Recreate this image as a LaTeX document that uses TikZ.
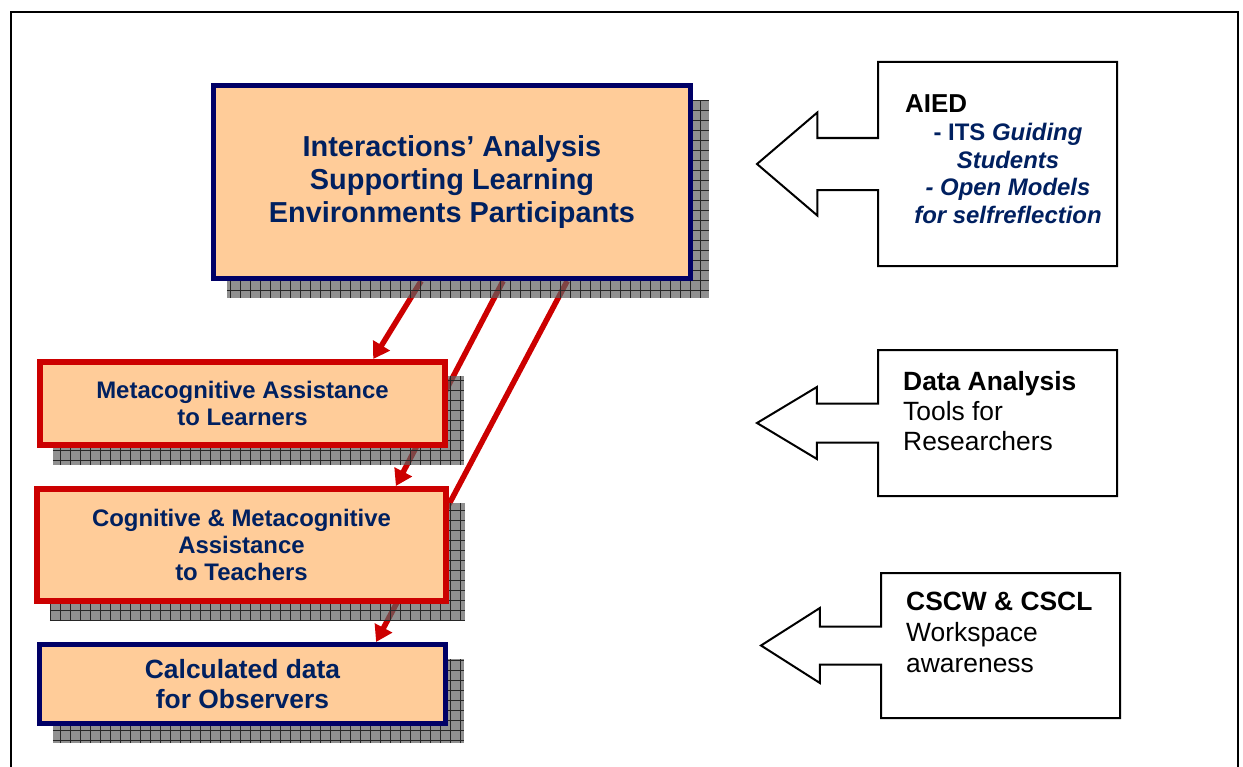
\documentclass[tikz,border=0pt]{standalone}
\usepackage{fontspec}
\setmainfont{Liberation Sans}
\usetikzlibrary{arrows.meta,calc,shapes.arrows,backgrounds}
\definecolor{peach}{RGB}{255,204,153}
\definecolor{navyline}{RGB}{0,0,102}
\definecolor{navytext}{RGB}{0,32,96}
\definecolor{boxred}{RGB}{204,0,0}

\begin{document}
\begin{tikzpicture}[x=1bp,y=-1bp,
  mainbox/.style={draw=navyline, line width=5bp, fill=peach, text=navytext, align=center, inner sep=0},
  redbox/.style={draw=boxred, line width=6bp, fill=peach, text=navytext, align=center, inner sep=0},
  sourcebox/.style={arrow box, draw=black, line width=2bp, fill=white, inner sep=0, minimum width=239bp, arrow box head indent=0bp},
  sourcetext/.style={inner sep=0, anchor=base west, align=left},
  flow/.style={draw=boxred, line width=5.5bp, -{Triangle[length=16bp,width=19bp]}},
  shadowfill/.style={fill=black!62, fill opacity=0.7},
  shadowgrid/.style={draw=black!85, line width=0.7bp, step=10bp},
]
\useasboundingbox (0,0) rectangle (1243,767);
\draw[line width=2.5bp] (11,767) -- (11,12) -- (1238,12) -- (1238,767);

% left column
\node[mainbox, minimum width=477bp, minimum height=193bp, font=\bfseries\fontsize{29}{33}\selectfont] (main) at (452,182) {Interactions’ Analysis\\Supporting Learning\\Environments Participants};
\node[redbox, minimum width=405bp, minimum height=83bp, font=\bfseries\fontsize{24}{28}\selectfont] (learners) at (242.5,403.5) {Metacognitive Assistance\\to Learners};
\node[redbox, minimum width=409bp, minimum height=112bp, font=\bfseries\fontsize{24}{27.5}\selectfont] (teachers) at (241.5,545) {Cognitive \& Metacognitive\\Assistance\\to Teachers};
\node[mainbox, minimum width=406bp, minimum height=79bp, font=\bfseries\fontsize{26.5}{31}\selectfont] (observers) at (242.5,684) {Calculated data\\for Observers};

% right column (base = last line)
\node[sourcebox, minimum height=204bp, arrow box shaft width=52bp, arrow box head extend=25.5bp, arrow box tip angle=81, arrow box arrows={west:120bp}] (aied) at (997.5,164) {};
\node[sourcetext, font=\bfseries\fontsize{26}{30}\selectfont] (aiedtitle) at (905,113) {AIED};
\node[inner sep=0, anchor=base, align=center, text=navytext, font=\bfseries\itshape\fontsize{24}{27.6}\selectfont] (aiedlist) at (1008,223) {{\upshape - ITS} Guiding\\Students\\- Open Models\\for selfreflection};

\node[sourcebox, minimum height=146bp, arrow box shaft width=39bp, arrow box head extend=16.5bp, arrow box tip angle=62, arrow box arrows={west:120bp}] (data) at (997.5,423) {};
\node[sourcetext, font=\fontsize{26.5}{30}\selectfont] (datatext) at (903,450) {\textbf{Data Analysis}\\Tools for\\Researchers};

\node[sourcebox, minimum height=145bp, arrow box shaft width=38bp, arrow box head extend=18.5bp, arrow box tip angle=65, arrow box arrows={west:119bp}] (cscw) at (1000.5,645.5) {};
\node[sourcetext, font=\fontsize{26.5}{31}\selectfont] (cscwtext) at (906,672) {\textbf{CSCW \& CSCL}\\Workspace\\awareness};

\begin{scope}[on background layer]
\draw[flow] ($(main.south west)!0.436!(main.south east)$) -- ($(learners.north west)!0.818!(learners.north east)$);
\draw[flow] ($(main.south west)!0.606!(main.south east)$) -- ($(teachers.north west)!0.872!(teachers.north east)$);
\draw[flow] ($(main.south west)!0.739!(main.south east)$) -- ($(observers.north west)!0.825!(observers.north east)$);
\foreach \b in {main,learners,teachers,observers}{
  \fill[shadowfill] ([shift={(16,17)}]\b.north west) rectangle ([shift={(16,17)}]\b.south east);
  \draw[shadowgrid] ([shift={(16,17)}]\b.north west) grid ([shift={(16,17)}]\b.south east);
}
\end{scope}
\end{tikzpicture}
\end{document}
